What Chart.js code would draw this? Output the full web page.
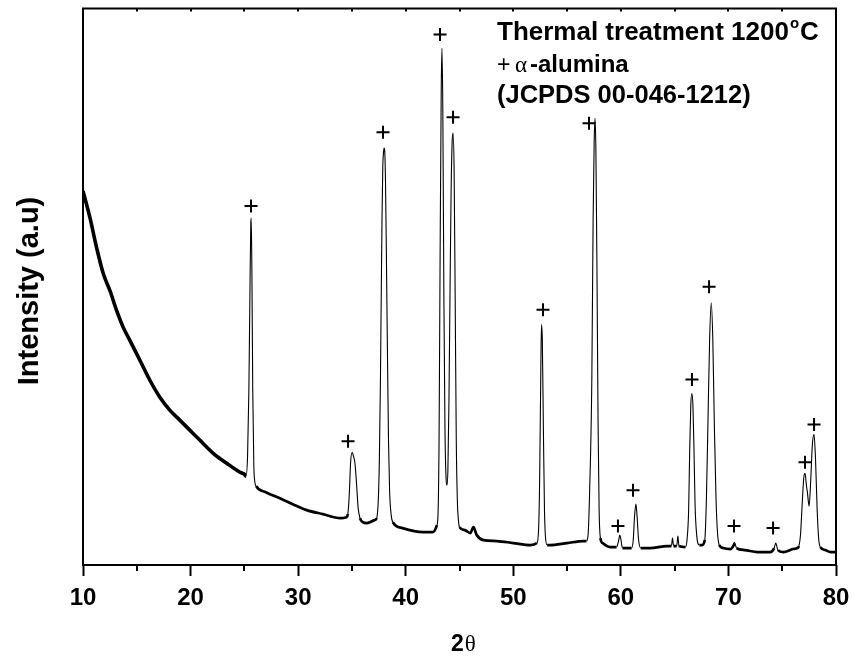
<!DOCTYPE html>
<html>
<head>
<meta charset="utf-8">
<script src="https://cdn.jsdelivr.net/npm/chart.js@4.4.1/dist/chart.umd.min.js"></script>
<style>
  html, body { margin: 0; padding: 0; background: #fff; }
  #wrap { width: 855px; height: 658px; }
</style>
</head>
<body>
<div id="wrap"><canvas id="xrd" width="855" height="658"></canvas></div>
<script>
// --- XRD pattern (2θ in degrees, intensity in arbitrary counts) ---
const twoTheta = [
  10.0, 10.65, 11.27, 11.89, 12.51, 13.13, 13.75, 14.37, 15.3, 16.23, 17.16, 18.09, 19.02, 19.95,
  20.88, 22.11, 23.36, 24.6, 25.0, 25.15, 25.3, 25.42, 25.52, 25.6, 25.64, 25.7, 25.78, 25.88,
  25.98, 26.1, 27.0, 28.3, 29.5, 30.8, 32.3, 33.9, 34.5, 34.62, 34.75, 34.88, 35.02, 35.12,
  35.28, 35.42, 35.58, 35.75, 36.0, 36.4, 37.1, 37.3, 37.45, 37.55, 37.65, 37.72, 37.8, 37.87,
  37.93, 38.0, 38.05, 38.12, 38.2, 38.3, 38.4, 38.5, 38.65, 38.8, 39.7, 41.6, 42.5, 42.9,
  43.0, 43.1, 43.2, 43.3, 43.37, 43.45, 43.55, 43.65, 43.75, 43.83, 43.92, 44.02, 44.12, 44.22,
  44.32, 44.4, 44.5, 44.6, 44.7, 44.8, 44.9, 45.0, 45.5, 46.0, 46.3, 46.6, 47.2, 48.5,
  50.0, 51.6, 52.2, 52.35, 52.45, 52.55, 52.62, 52.7, 52.8, 52.9, 53.0, 53.15, 53.4, 55.0,
  56.5, 56.8, 56.95, 57.1, 57.3, 57.42, 57.52, 57.6, 57.68, 57.78, 57.88, 57.98, 58.1, 58.3,
  59.0, 59.6, 59.8, 59.9, 60.0, 60.15, 61.0, 61.15, 61.28, 61.4, 61.5, 61.65, 61.85, 62.7,
  64.3, 64.7, 64.8, 64.9, 65.2, 65.3, 65.4, 66.0, 66.15, 66.3, 66.4, 66.5, 66.6, 66.7,
  66.8, 66.9, 67.05, 67.3, 67.55, 67.8, 67.95, 68.1, 68.25, 68.4, 68.55, 68.7, 68.85, 69.0,
  69.15, 69.5, 70.2, 70.45, 70.6, 70.75, 71.5, 72.7, 73.9, 74.25, 74.4, 74.6, 75.1, 76.0,
  76.4, 76.55, 76.7, 76.85, 77.0, 77.12, 77.25, 77.35, 77.5, 77.65, 77.8, 77.96, 78.1, 78.25,
  78.4, 78.55, 79.0, 79.5, 80.0
];

const intensity = [
  750, 696, 636, 584, 550, 510, 476, 450, 410, 370, 336, 310, 290, 270,
  250, 224, 204, 186, 182, 178, 220, 350, 550, 686, 696, 590, 350, 200,
  166, 158, 146, 134, 122, 110, 102, 94, 96, 102, 140, 206, 226, 220,
  204, 166, 114, 94, 86, 84, 90, 94, 130, 210, 370, 530, 700, 800,
  826, 836, 830, 770, 630, 430, 250, 150, 100, 86, 74, 66, 66, 80,
  100, 250, 630, 950, 1036, 910, 530, 270, 174, 160, 190, 330, 550, 750,
  850, 866, 790, 530, 250, 130, 90, 76, 70, 64, 76, 60, 50, 48,
  44, 40, 44, 70, 170, 370, 482, 450, 270, 110, 54, 40, 40, 44,
  48, 48, 60, 150, 370, 690, 850, 896, 830, 590, 290, 110, 54, 44,
  36, 36, 50, 60, 52, 34, 34, 50, 100, 122, 100, 50, 34, 34,
  38, 38, 54, 38, 38, 58, 38, 36, 50, 110, 230, 320, 344, 320,
  230, 120, 60, 40, 40, 50, 130, 290, 450, 526, 450, 270, 130, 60,
  40, 34, 32, 38, 44, 34, 30, 26, 26, 34, 44, 30, 26, 32,
  34, 38, 60, 120, 174, 184, 160, 144, 118, 170, 240, 262, 210, 110,
  50, 36, 30, 26, 26
];

// α-alumina reflections marked with "+"
const markTheta = [25.62, 34.64, 37.89, 43.19, 44.40, 52.76, 57.04, 59.73, 61.13, 66.61, 68.20, 70.52, 74.15, 77.12, 77.96];
const markHeight = [720, 248, 868, 1064, 898, 512, 886, 78, 150, 372, 558, 78, 74, 206, 282];

const xTicks = [10, 20, 30, 40, 50, 60, 70, 80];
const xMinorTicks = [15, 25, 35, 45, 55, 65, 75];

const SANS = '"Liberation Sans", Arial, sans-serif';
const SERIF = '"Liberation Serif", "DejaVu Serif", serif';

// --- Frame, minor ticks and text annotations ---
const framePlugin = {
  id: "frame",
  afterDraw(chart) {
    const { ctx, chartArea: a } = chart;
    const xs = chart.scales.x;
    ctx.save();
    ctx.strokeStyle = "#000";
    ctx.lineWidth = 2;
    ctx.strokeRect(a.left, a.top, a.right - a.left, a.bottom - a.top);

    ctx.beginPath();
    xMinorTicks.forEach((v) => {
      const px = Math.round(xs.getPixelForValue(v));
      ctx.moveTo(px, a.bottom);
      ctx.lineTo(px, a.bottom + 6);
    });
    xTicks.concat(xMinorTicks).forEach((v) => {
      const px = Math.round(xs.getPixelForValue(v));
      ctx.moveTo(px, a.top);
      ctx.lineTo(px, a.top + 3);
    });
    ctx.stroke();

    ctx.fillStyle = "#000";
    ctx.textBaseline = "alphabetic";
    ctx.textAlign = "left";

    // line 1
    let x = 497;
    ctx.font = `bold 26px ${SANS}`;
    ctx.fillText("Thermal treatment 1200", x, 40);
    x += ctx.measureText("Thermal treatment 1200").width + 1;
    ctx.font = `bold 15px ${SANS}`;
    ctx.fillText("o", x, 28);
    x += ctx.measureText("o").width + 1;
    ctx.font = `bold 26px ${SANS}`;
    ctx.fillText("C", x, 40);

    // line 2
    ctx.font = `23px ${SANS}`;
    ctx.fillText("+", 497, 72);
    ctx.font = `23px ${SERIF}`;
    ctx.fillText("\u03b1", 515, 72);
    ctx.font = `bold 24px ${SANS}`;
    ctx.fillText("-alumina", 530, 72);

    // line 3
    ctx.font = `bold 25.5px ${SANS}`;
    ctx.fillText("(JCPDS 00-046-1212)", 497, 103);

    // x axis title
    ctx.font = `bold 23px ${SANS}`;
    const w2 = ctx.measureText("2").width;
    ctx.fillText("2", 451, 651);
    ctx.font = `23px ${SERIF}`;
    ctx.fillText("\u03b8", 451 + w2 + 1, 651);

    // y axis title
    ctx.translate(38, 291);
    ctx.rotate(-Math.PI / 2);
    ctx.textAlign = "center";
    ctx.font = `bold 29px ${SANS}`;
    ctx.fillText("Intensity (a.u)", 0, 0);
    ctx.restore();
  }
};

// --- Chart ---
const pattern = twoTheta.map((t, i) => ({ x: t, y: intensity[i] }));
const marks = markTheta.map((t, i) => ({ x: t, y: markHeight[i] }));

new Chart(document.getElementById("xrd"), {
  type: "line",
  data: {
    datasets: [
      {
        data: pattern,
        borderColor: "#000",
        borderWidth: 1.2,
        pointRadius: 0,
        cubicInterpolationMode: "monotone",
        segment: {
          // noisy background reads as a thick band, sharp peaks as a hairline
          borderWidth: (ctx) => {
            if (ctx.p0.parsed.x < 25.1) return 3.6;
            const dx = Math.abs(ctx.p1.x - ctx.p0.x) || 1;
            const dy = Math.abs(ctx.p1.y - ctx.p0.y);
            return dy / dx > 2.5 ? 1.1 : 2.7;
          }
        }
      },
      {
        type: "scatter",
        data: marks,
        pointStyle: "cross",
        pointRadius: 6.5,
        borderWidth: 2,
        borderColor: "#000",
        showLine: false
      }
    ]
  },
  options: {
    responsive: false,
    animation: false,
    layout: { padding: { top: 7, right: 19, left: 0, bottom: 0 } },
    plugins: { legend: { display: false }, tooltip: { enabled: false } },
    scales: {
      x: {
        type: "linear",
        min: 10,
        max: 80,
        afterBuildTicks: (scale) => {
          scale.ticks = xTicks.map((v) => ({ value: v }));
        },
        afterFit: (scale) => {
          scale.height = 93;
          scale.paddingLeft = 0;
          scale.paddingRight = 0;
        },
        ticks: {
          color: "#000",
          padding: 8,
          maxRotation: 0,
          font: { family: SANS, size: 24, weight: "bold" }
        },
        grid: {
          drawOnChartArea: false,
          drawTicks: true,
          tickLength: 11,
          tickWidth: 2,
          tickColor: "#000"
        },
        border: { display: false }
      },
      y: {
        min: 0,
        max: 1116,
        afterFit: (scale) => {
          scale.width = 83;
          scale.paddingTop = 0;
          scale.paddingBottom = 0;
        },
        ticks: { display: false },
        grid: { display: false },
        border: { display: false }
      }
    }
  },
  plugins: [framePlugin]
});
</script>
</body>
</html>
